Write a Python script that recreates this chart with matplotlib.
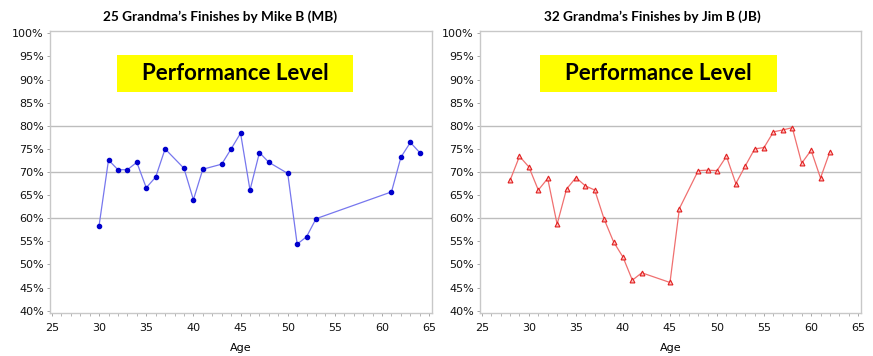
import matplotlib.pyplot as plt
from matplotlib.patches import Rectangle
from matplotlib.ticker import MultipleLocator, FuncFormatter

# Mike B (MB)
mb_age = [30, 31, 32, 33, 34, 35, 36, 37, 39, 40, 41, 43, 44, 45, 46, 47, 48,
          50, 51, 52, 53, 61, 62, 63, 64]
mb_perf = [58.4, 72.6, 70.5, 70.5, 72.1, 66.6, 68.9, 75.0, 70.8, 64.0, 70.6,
           71.7, 75.0, 78.4, 66.1, 74.2, 72.1, 69.7, 54.4, 56.0, 59.9, 65.7,
           73.2, 76.4, 74.2]

# Jim B (JB)
jb_age = [28, 29, 30, 31, 32, 33, 34, 35, 36, 37, 38, 39, 40, 41, 42, 45, 46,
          48, 49, 50, 51, 52, 53, 54, 55, 56, 57, 58, 59, 60, 61, 62]
jb_perf = [68.2, 73.4, 71.1, 66.1, 68.6, 58.7, 66.3, 68.8, 67.0, 66.1, 59.8,
           54.9, 51.6, 46.6, 48.2, 46.1, 62.1, 70.3, 70.4, 70.3, 73.4, 67.5,
           71.3, 75.0, 75.3, 78.7, 79.1, 79.6, 71.9, 74.7, 68.7, 74.4]

titles = ["25 Grandma\u2019s Finishes by Mike B (MB)",
          "32 Grandma\u2019s Finishes by Jim B (JB)"]

fig = plt.figure(figsize=(8.73, 3.56), dpi=100)
ax1 = fig.add_axes([0.0573, 0.1208, 0.4376, 0.792])
ax2 = fig.add_axes([0.5498, 0.1208, 0.4364, 0.792])

ax1.plot(mb_age, mb_perf, color='#7777ee', lw=0.9, zorder=3)
ax1.plot(mb_age, mb_perf, 'o', color='#0000cc', ms=3.0, zorder=4)

ax2.plot(jb_age, jb_perf, color='#f07070', lw=0.9, zorder=3)
ax2.plot(jb_age, jb_perf, '^', mfc='#ffc0c0', mec='#e02020', mew=0.8, ms=3.5,
         zorder=4)

boxes = [(0.175, 0.793), (0.157, 0.780)]
title_x = [220 / 873, 652 / 873]
for ax, title, tx, (bx0, bx1) in zip([ax1, ax2], titles, title_x, boxes):
    ax.set_xlim(24.8, 65.3)
    ax.set_ylim(39.5, 100.5)
    ax.xaxis.set_major_locator(MultipleLocator(5))
    ax.xaxis.set_minor_locator(MultipleLocator(1))
    ax.yaxis.set_major_locator(MultipleLocator(5))
    ax.yaxis.set_major_formatter(FuncFormatter(lambda v, p: f'{v:.0f}%'))
    ax.tick_params(labelsize=8, labelcolor='#111111', color='#999999',
                   length=2.5, width=0.6, pad=2)
    ax.tick_params(axis='x', pad=5)
    ax.tick_params(which='minor', length=1.8, width=0.5, color='#999999')
    for s in ax.spines.values():
        s.set_color('#c8c8c8')
        s.set_linewidth(1)
    for g in [60, 70, 80]:
        ax.axhline(g, color='#bdbdbd', lw=1, zorder=1)
    ax.set_xlabel('Age', fontsize=8, labelpad=7)
    fig.text(tx, 0.952, title, ha='center', va='center', fontsize=9.8,
             fontweight='bold', family='Lato')

    ax.add_patch(Rectangle((bx0, 0.784), bx1 - bx0, 0.131,
                           transform=ax.transAxes, facecolor='#ffff00',
                           edgecolor='none', zorder=2))
    ax.text((bx0 + bx1) / 2, 0.849, 'Performance Level', transform=ax.transAxes,
            ha='center', va='center', fontsize=16, fontweight='bold',
            family='Lato', zorder=5)

fig.savefig('out.png', dpi=100)
